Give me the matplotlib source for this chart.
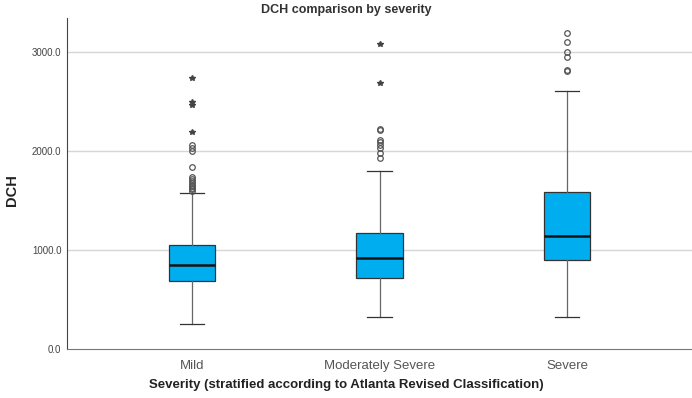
import matplotlib
matplotlib.use("Agg")
import matplotlib.pyplot as plt

plt.rcParams['font.family'] = ['Liberation Sans', 'DejaVu Sans']

groups = ["Mild", "Moderately Severe", "Severe"]
q1 = [690, 714, 899]
med = [851, 922, 1141]
q3 = [1053, 1175, 1589]
wlo = [249, 326, 327]
whi = [1576, 1794, 2606]
# outliers (circles) and extremes (stars)
circles = [
    [1600, 1615, 1630, 1645, 1660, 1680, 1700, 1720, 1740, 1840, 1995, 2035, 2065],
    [1932, 1983, 2030, 2060, 2090, 2111, 2212, 2222],
    [2808, 2815, 2953, 3003, 3101, 3195],
]
stars = [
    [2189, 2465, 2498, 2734],
    [2690, 3081],
    [],
]

fig = plt.figure(figsize=(6.92, 3.98), dpi=100)
ax = fig.add_axes([67/692, 1 - 349/398, 625/692, 331/398])

stats = []
for i in range(3):
    stats.append(dict(label=groups[i], q1=q1[i], med=med[i], q3=q3[i],
                      whislo=wlo[i], whishi=whi[i], fliers=circles[i]))

pos = [1, 2, 3]
ax.bxp(stats, positions=pos, widths=0.25, patch_artist=True,
       boxprops=dict(facecolor="#00AEEF", edgecolor="#333333", linewidth=0.9),
       medianprops=dict(color="#111111", linewidth=1.8),
       whiskerprops=dict(color="#666666", linewidth=0.9),
       capprops=dict(color="#333333", linewidth=0.9),
       capwidths=0.13,
       flierprops=dict(marker="o", markersize=4, markerfacecolor="none",
                       markeredgecolor="#555555", markeredgewidth=0.9),
       zorder=3)

for i in range(3):
    if stars[i]:
        ax.plot([pos[i]] * len(stars[i]), stars[i], linestyle="none",
                marker="*", markersize=4, color="#444444", zorder=4)

ax.set_xlim(0.333, 3.667)
ax.set_ylim(0, 3343)
ax.set_yticks([0, 1000, 2000, 3000])
ax.set_yticklabels(["0.0", "1000.0", "2000.0", "3000.0"])
ax.set_xticks(pos)
ax.set_xticklabels(groups)
ax.tick_params(axis="y", length=0, labelsize=7, labelcolor="#444444", pad=4)
ax.tick_params(axis="x", length=0, labelsize=9.5, labelcolor="#555555", pad=8)

for v in [1000, 2000, 3000]:
    ax.axhline(v, color="#d6d6d6", linewidth=1.0, zorder=1)

ax.spines["top"].set_visible(False)
ax.spines["right"].set_visible(False)
ax.spines["left"].set_color("#444444")
ax.spines["bottom"].set_color("#777777")

fig.text(0.5, 1 - 10/398, "DCH comparison by severity", ha="center", va="center",
         fontsize=9, fontweight="bold", color="#333333")
fig.text(0.5, 1 - 385/398, "Severity (stratified according to Atlanta Revised Classification)",
         ha="center", va="center", fontsize=9.5, fontweight="bold", color="#222222")
fig.text(12/692, 1 - 190/398, "DCH", ha="center", va="center", rotation=90,
         fontsize=10.5, fontweight="bold", color="#222222")

fig.savefig("out.png", dpi=100)
